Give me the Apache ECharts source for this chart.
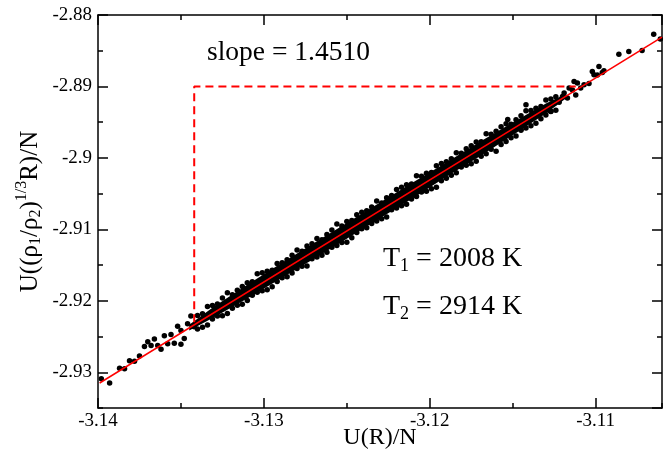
<!DOCTYPE html>
<html>
<head>
<meta charset="utf-8">
<script src="https://cdn.jsdelivr.net/npm/echarts@6/dist/echarts.min.js"></script>
<style>
  html, body { margin: 0; padding: 0; background: #fff; }
  #chart { width: 670px; height: 453px; }
</style>
</head>
<body>
<div id="chart"></div>
<script>
// axis ranges / tick labels
const xRange = [-3.14, -3.106];
const yRange = [-2.935, -2.88];

// dense core of the cloud (upper / lower edge)
const bandX = [-3.1345, -3.1330, -3.1310, -3.1290, -3.1270, -3.1250, -3.1230, -3.1210, -3.1190, -3.1170, -3.1150, -3.1130, -3.1118];
const bandHigh = [-2.92335, -2.92081, -2.91776, -2.91481, -2.91196, -2.90910, -2.90625, -2.90340, -2.90064, -2.89779, -2.89504, -2.89238, -2.89107];
const bandLow = [-2.92415, -2.92231, -2.91966, -2.91691, -2.91416, -2.91130, -2.90845, -2.90560, -2.90264, -2.89979, -2.89684, -2.89378, -2.89167];

// points on the rim of the cloud
const edgeX = [-3.1340, -3.1334, -3.1328, -3.1322, -3.1316, -3.1310, -3.1304, -3.1298, -3.1292, -3.1286, -3.1280, -3.1274, -3.1268, -3.1262, -3.1256, -3.1250, -3.1244, -3.1238, -3.1232, -3.1226, -3.1220, -3.1214, -3.1208, -3.1202, -3.1196, -3.1190, -3.1184, -3.1178, -3.1172, -3.1166, -3.1160, -3.1154, -3.1148, -3.1142, -3.1136, -3.1130, -3.1124];
const edgeUpper = [-2.92204, -2.92079, -2.92043, -2.91887, -2.91852, -2.91746, -2.91621, -2.91585, -2.91479, -2.91424, -2.91288, -2.91233, -2.91127, -2.91071, -2.90926, -2.90890, -2.90795, -2.90739, -2.90604, -2.90558, -2.90442, -2.90377, -2.90251, -2.90216, -2.90110, -2.90054, -2.89929, -2.89873, -2.89778, -2.89662, -2.89626, -2.89521, -2.89465, -2.89340, -2.89304, -2.89188, -2.89143];
const edgeLower = [-2.92394, -2.92339, -2.92213, -2.92177, -2.92062, -2.91996, -2.91881, -2.91845, -2.91729, -2.91664, -2.91548, -2.91513, -2.91387, -2.91321, -2.91226, -2.91180, -2.91045, -2.90979, -2.90884, -2.90828, -2.90702, -2.90647, -2.90541, -2.90466, -2.90410, -2.90284, -2.90209, -2.90103, -2.90048, -2.89942, -2.89906, -2.89771, -2.89695, -2.89580, -2.89514, -2.89398, -2.89333];

const edgeX2 = [-3.1337, -3.1331, -3.1325, -3.1319, -3.1313, -3.1307, -3.1301, -3.1295, -3.1289, -3.1283, -3.1277, -3.1271, -3.1265, -3.1259, -3.1253, -3.1247, -3.1241, -3.1235, -3.1229, -3.1223, -3.1217, -3.1211, -3.1205, -3.1199, -3.1193, -3.1187, -3.1181, -3.1175, -3.1169, -3.1163, -3.1157, -3.1151, -3.1145, -3.1139, -3.1133, -3.1127];
const edgeUpper2 = [-2.92181, -2.92066, -2.91960, -2.91915, -2.91799, -2.91733, -2.91608, -2.91572, -2.91467, -2.91361, -2.91305, -2.91200, -2.91144, -2.91009, -2.90953, -2.90877, -2.90762, -2.90686, -2.90631, -2.90525, -2.90410, -2.90364, -2.90258, -2.90203, -2.90077, -2.90011, -2.89936, -2.89830, -2.89775, -2.89669, -2.89564, -2.89528, -2.89411, -2.89337, -2.89281, -2.89176];
const edgeLower2 = [-2.92371, -2.92256, -2.92210, -2.92105, -2.92049, -2.91923, -2.91858, -2.91802, -2.91677, -2.91611, -2.91515, -2.91410, -2.91364, -2.91249, -2.91183, -2.91117, -2.90992, -2.90917, -2.90851, -2.90725, -2.90670, -2.90575, -2.90478, -2.90433, -2.90318, -2.90242, -2.90126, -2.90080, -2.89976, -2.89879, -2.89814, -2.89719, -2.89612, -2.89549, -2.89451, -2.89346];

// sparse ends of the cloud
const tailLeftX = [-3.1398, -3.1393, -3.1387, -3.1384, -3.1381, -3.1378, -3.1375, -3.1372, -3.1370, -3.1368, -3.1366, -3.1364, -3.1362, -3.1360, -3.1358, -3.1356, -3.1354, -3.1352, -3.1350, -3.1350, -3.1348, -3.1346, -3.1344, -3.1342];
const tailLeftY = [-2.93091, -2.93150, -2.92945, -2.92952, -2.92839, -2.92846, -2.92773, -2.92641, -2.92572, -2.92624, -2.92535, -2.92626, -2.92678, -2.92489, -2.92601, -2.92472, -2.92594, -2.92355, -2.92417, -2.92607, -2.92528, -2.92320, -2.92211, -2.92363];
const tailRightX = [-3.1153, -3.1145, -3.1142, -3.1128, -3.1127, -3.1125, -3.1122, -3.1120, -3.1119, -3.1117, -3.1116, -3.1114, -3.1113, -3.1112, -3.1111, -3.1109, -3.1107, -3.1104, -3.1102, -3.1101, -3.1099, -3.1098, -3.1096, -3.1095, -3.1086, -3.1080, -3.1072, -3.1065, -3.1061];
const tailRightY = [-2.89464, -2.8960, -2.89255, -2.89335, -2.89349, -2.8924, -2.8922, -2.8914, -2.8909, -2.89162, -2.89022, -2.8905, -2.8893, -2.8912, -2.8895, -2.8902, -2.88976, -2.8896, -2.8879, -2.88837, -2.8884, -2.8872, -2.88805, -2.88781, -2.88548, -2.88512, -2.88498, -2.88269, -2.88335];

// linear fit and slope triangle
const fitX = [-3.1399, -3.106];
const fitY = [-2.9315, -2.8831];
const guideX = [-3.1342, -3.1342, -3.1112];
const guideY = [-2.9230, -2.8900, -2.8900];

const FONT = '"Liberation Serif", "Times New Roman", serif';

function pairs(xs, ys) {
    let out = [];
    for (let i = 0; i < xs.length; i++) {
        out.push([xs[i], ys[i]]);
    }
    return out;
}

function tickLabel(v) {
    let r = Math.round(v * 100);
    if (Math.abs(v * 100 - r) > 1e-6) return '';
    return String(r / 100);
}

let points = [].concat(
    pairs(edgeX, edgeUpper), pairs(edgeX, edgeLower),
    pairs(edgeX2, edgeUpper2), pairs(edgeX2, edgeLower2),
    pairs(tailLeftX, tailLeftY), pairs(tailRightX, tailRightY)
);

const lineStyle = { color: '#000', width: 1.5 };

function makeX(pos, major, labels) {
    return {
        type: 'value', position: pos, min: xRange[0], max: xRange[1],
        interval: major ? 0.01 : 0.005,
        axisLine: { show: major, onZero: false, lineStyle: lineStyle },
        axisTick: { show: true, inside: true, length: major ? 10 : 5, lineStyle: lineStyle },
        splitLine: { show: false },
        axisLabel: { show: labels, formatter: tickLabel, color: '#000', fontFamily: FONT, fontSize: 19, margin: 4, showMaxLabel: false },
        name: labels ? 'U(R)/N' : '',
        nameLocation: 'middle', nameGap: 18, nameMoveOverlap: false,
        nameTextStyle: { color: '#000', fontFamily: FONT, fontSize: 24 }
    };
}

function makeY(pos, major, labels) {
    let ax = {
        type: 'value', position: pos, min: yRange[0], max: yRange[1],
        axisLine: { show: major, onZero: false, lineStyle: lineStyle },
        axisTick: { show: true, inside: true, length: major ? 10 : 5, lineStyle: lineStyle },
        splitLine: { show: false },
        axisLabel: { show: labels, formatter: tickLabel, color: '#000', fontFamily: FONT, fontSize: 19, margin: 6, showMinLabel: false },
        name: labels ? 'U((ρ{s|1}/ρ{s|2}){p|1/3}R)/N' : '',
        nameLocation: 'middle', nameGap: 52, nameRotate: 90, nameMoveOverlap: false,
        nameTextStyle: {
            color: '#000', fontFamily: FONT, fontSize: 25,
            rich: {
                s: { fontFamily: FONT, fontSize: 16, color: '#000', padding: [12, 0, 0, 0] },
                p: { fontFamily: FONT, fontSize: 16, color: '#000', padding: [0, 0, 16, 0] }
            }
        }
    };
    // minor ticks every 0.005 counted from min; major ticks left to the nice interval
    if (!major) ax.interval = 0.005;
    else ax.splitNumber = 5;
    return ax;
}

let myChart = echarts.init(document.getElementById('chart'), null, { renderer: 'canvas' });

let option = {
    backgroundColor: '#fff',
    animation: false,
    grid: { left: 98, right: 8, top: 15, bottom: 45, outerBoundsMode: 'none', containLabel: false },
    xAxis: [makeX('bottom', true, true), makeX('bottom', false, false), makeX('top', true, false), makeX('top', false, false)],
    yAxis: [makeY('left', true, true), makeY('left', false, false), makeY('right', true, false), makeY('right', false, false)],
    graphic: [
        {
            type: 'text', left: 207, top: 39,
            style: { text: 'slope = 1.4510', font: '27.5px ' + FONT, fill: '#000' }
        },
        {
            type: 'text', left: 383, top: 245,
            style: {
                text: '{m|T}{s|1}{m| = 2008 K}', fill: '#000',
                rich: {
                    m: { fontFamily: FONT, fontSize: 28, fill: '#000' },
                    s: { fontFamily: FONT, fontSize: 18, fill: '#000', padding: [15, 0, 0, 0] }
                }
            }
        },
        {
            type: 'text', left: 383, top: 293,
            style: {
                text: '{m|T}{s|2}{m| = 2914 K}', fill: '#000',
                rich: {
                    m: { fontFamily: FONT, fontSize: 28, fill: '#000' },
                    s: { fontFamily: FONT, fontSize: 18, fill: '#000', padding: [15, 0, 0, 0] }
                }
            }
        }
    ],
    series: [
        {
            type: 'custom',
            z: 2,
            renderItem: function (params, api) {
                let pts = [];
                for (let i = 0; i < bandX.length; i++) pts.push(api.coord([bandX[i], bandHigh[i]]));
                for (let i = bandX.length - 1; i >= 0; i--) pts.push(api.coord([bandX[i], bandLow[i]]));
                return { type: 'polygon', shape: { points: pts }, style: { fill: '#000' } };
            },
            data: [[bandX[0], bandHigh[0]]]
        },
        {
            type: 'scatter',
            z: 3,
            symbol: 'circle',
            symbolSize: 5.5,
            itemStyle: { color: '#000', opacity: 1 },
            data: points
        },
        {
            type: 'line',
            z: 4,
            showSymbol: false,
            lineStyle: { color: '#ff0000', width: 1.5 },
            data: pairs(fitX, fitY)
        },
        {
            type: 'line',
            z: 4,
            showSymbol: false,
            lineStyle: { color: '#ff0000', width: 2, type: [8, 5] },
            data: pairs(guideX, guideY)
        }
    ]
};
myChart.setOption(option);
</script>
</body>
</html>
